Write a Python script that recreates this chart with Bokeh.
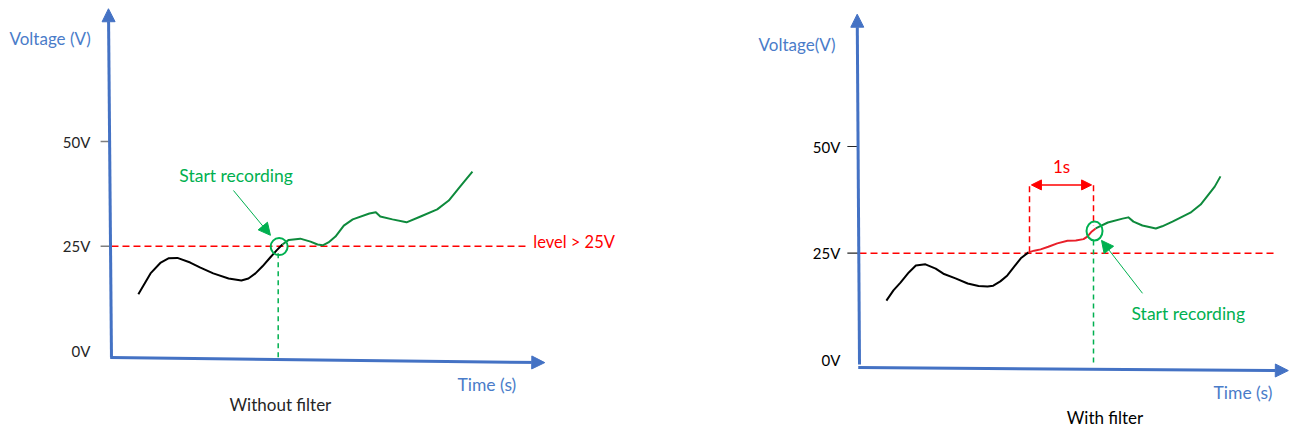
from bokeh.plotting import figure
from bokeh.layouts import row
from bokeh.models import Arrow, NormalHead, Label, Range1d
from bokeh.core.properties import value
from bokeh.embed import file_html
from bokeh.resources import INLINE

# ---------------- data ----------------
tick_values = [50, 25, 0]
tick_labels = ["50V", "25V", "0V"]
threshold_v = 25
delay_s = 1.0

# left panel: without filter
left_black_t = [0.42, 0.61, 0.77, 0.89, 1.03, 1.23, 1.39, 1.59, 1.83, 2.03, 2.14, 2.25, 2.36, 2.48, 2.58, 2.67]
left_black_v = [13.5, 18.5, 21.1, 22.1, 22.2, 21.1, 19.9, 18.5, 17.3, 16.8, 17.3, 18.5, 20.2, 22.3, 24.0, 25.4]
left_green_t = [2.67, 2.77, 2.95, 3.11, 3.22, 3.30, 3.39, 3.50, 3.63, 3.77, 4.03, 4.13, 4.20, 4.39,
                4.61, 4.83, 5.09, 5.27, 5.45, 5.64]
left_green_v = [25.4, 26.5, 26.8, 26.1, 25.4, 25.2, 25.9, 27.3, 29.9, 31.4, 32.8, 33.1, 32.1, 31.4,
                30.7, 32.1, 33.8, 35.9, 39.3, 42.8]
left_trigger_t = 2.62
left_trigger_v = 24.9

# right panel: with filter
right_black_t = [0.42, 0.53, 0.64, 0.77, 0.88, 1.03, 1.19, 1.31, 1.50, 1.69, 1.86, 2.00, 2.09, 2.20,
                 2.31, 2.42, 2.52, 2.64]
right_black_v = [13.9, 16.3, 18.1, 20.5, 22.1, 22.4, 21.4, 20.2, 19.1, 17.9, 17.3, 17.2, 17.4, 18.4,
                 19.8, 21.9, 23.8, 25.2]
right_red_t = [2.64, 2.73, 2.83, 2.95, 3.09, 3.25, 3.38, 3.50, 3.56, 3.63, 3.69]
right_red_v = [25.2, 25.6, 25.9, 26.5, 27.3, 27.9, 28.0, 28.3, 28.9, 30.1, 30.8]
right_green_t = [3.69, 3.88, 4.11, 4.20, 4.28, 4.42, 4.63, 4.73, 4.89, 5.17, 5.33, 5.44, 5.55, 5.64]
right_green_v = [30.8, 32.2, 33.1, 33.4, 32.4, 31.5, 30.8, 31.3, 32.4, 34.5, 36.4, 38.5, 40.6, 43.0]
filter_start_t = 2.656
right_trigger_v = 30.2

# ---------------- styles ----------------
FONT_NAME = "Lato"
FONT = value(FONT_NAME)
BLUE = "#4472C4"
LBLUE = "#4A7CC9"
RED = "#FF0000"
GREEN_TXT = "#00B050"
GREEN_LINE = "#0E8A3C"
DARK = "#262626"
GRAY = "#7F7F7F"
H = 430


def make_panel(width, x0, x1, y0, y1):
    p = figure(width=width, height=H, x_range=Range1d(x0, x1), y_range=Range1d(y0, y1),
               output_backend="svg", toolbar_location=None, min_border=0,
               x_axis_location=None, y_axis_location=None, outline_line_color=None,
               background_fill_color="white", border_fill_color="white")
    p.grid.visible = False
    return p


def head(color, size):
    return NormalHead(size=size, fill_color=color, line_color=color)


def label(p, x, y, text, color, size, align="left"):
    p.add_layout(Label(x=x, y=y, text=text, text_font=FONT_NAME, text_font_size=size,
                       text_color=color, text_align=align, text_baseline="middle"))


# ================= LEFT =================
p1 = make_panel(648, -1.734, 8.391, -19.01, 83.67)

# axes
p1.add_layout(Arrow(x_start=0, y_start=-1.6, x_end=-0.047, y_end=81.7, line_color=BLUE,
                    line_width=3, end=head(BLUE, 13)))
p1.add_layout(Arrow(x_start=-0.02, y_start=-1.6, x_end=6.77, y_end=-2.8, line_color=BLUE,
                    line_width=3, end=head(BLUE, 13)))
p1.segment(x0=[-0.17] * 2, y0=tick_values[:2], x1=[-0.02] * 2, y1=tick_values[:2],
           line_color=GRAY, line_width=1.5)
p1.text(x=[-0.33] * 3, y=tick_values, text=tick_labels, text_font=FONT, text_font_size="15px",
        text_color=DARK, text_align="right", text_baseline="middle")

# threshold
p1.line([0, 6.47], [threshold_v, threshold_v], line_color=RED, line_width=1.5, line_dash="7 4")

# signal
p1.line(left_black_t, left_black_v, line_color="black", line_width=2, line_join="round")
p1.line(left_green_t, left_green_v, line_color=GREEN_LINE, line_width=2, line_join="round")

# trigger
p1.line([left_trigger_t - 0.015] * 2, [23.3, -1.6], line_color=GREEN_TXT, line_width=1.5,
        line_dash="5 4")
p1.scatter([left_trigger_t], [left_trigger_v], marker="circle", size=17, fill_color=None,
           line_color=GREEN_TXT, line_width=2)
p1.add_layout(Arrow(x_start=1.906, y_start=38.3, x_end=2.484, y_end=27.6, line_color=GREEN_TXT,
                    line_width=1, end=head(GREEN_TXT, 12)))

label(p1, 1.06, 41.9, "Start recording", GREEN_TXT, "17.5px")
label(p1, 6.59, 25.9, "level > 25V", RED, "16.5px")
label(p1, -1.594, 74.6, "Voltage (V)", LBLUE, "17px")
label(p1, 5.406, -8.0, "Time (s)", LBLUE, "17.5px")
label(p1, 2.64, -12.9, "Without filter", DARK, "17px", "center")

# ================= RIGHT =================
p2 = make_panel(642, -3.297, 6.734, -16.54, 84.21)

p2.add_layout(Arrow(x_start=0, y_start=-1.1, x_end=-0.036, y_end=81.0, line_color=BLUE,
                    line_width=3, end=head(BLUE, 13)))
p2.add_layout(Arrow(x_start=-0.02, y_start=-1.8, x_end=6.70, y_end=-2.5, line_color=BLUE,
                    line_width=3, end=head(BLUE, 13)))
p2.segment(x0=[-0.19] * 2, y0=tick_values[:2], x1=[-0.02] * 2, y1=tick_values[:2],
           line_color=DARK, line_width=1.2)
p2.text(x=[-0.30] * 3, y=tick_values, text=tick_labels, text_font=FONT, text_font_size="15px",
        text_color="black", text_align="right", text_baseline="middle")

p2.line([0, 6.47], [threshold_v, threshold_v], line_color=RED, line_width=1.5, line_dash="7 4")

record_t = filter_start_t + delay_s
# delay markers
p2.line([filter_start_t] * 2, [25.2, 40.9], line_color=RED, line_width=1.5, line_dash="6 4")
p2.line([record_t] * 2, [40.9, 31.5], line_color=RED, line_width=1.5, line_dash="6 4")
p2.add_layout(Arrow(x_start=filter_start_t + 0.03, y_start=41.0, x_end=record_t - 0.03, y_end=41.0,
                    line_color=RED, line_width=1.5, start=head(RED, 10), end=head(RED, 10)))
label(p2, (filter_start_t + record_t) / 2, 45.3, "1s", RED, "17px", "center")

p2.line(right_black_t, right_black_v, line_color="black", line_width=2, line_join="round")
p2.line(right_red_t, right_red_v, line_color="#E8202A", line_width=2, line_join="round")
p2.line(right_green_t, right_green_v, line_color=GREEN_LINE, line_width=2, line_join="round")

p2.line([record_t] * 2, [28.0, -1.1], line_color=GREEN_TXT, line_width=1.5, line_dash="5 4")
p2.ellipse([record_t + 0.016], [right_trigger_v], width=16, height=19, width_units="screen",
           height_units="screen", fill_color=None, line_color=GREEN_TXT, line_width=2)
p2.add_layout(Arrow(x_start=4.422, y_start=15.6, x_end=3.781, y_end=28.0, line_color=GREEN_TXT,
                    line_width=1, end=head(GREEN_TXT, 12)))

label(p2, 4.25, 10.9, "Start  recording", GREEN_TXT, "17.5px")
label(p2, -1.578, 73.8, "Voltage(V)", LBLUE, "17px")
label(p2, 5.531, -7.6, "Time (s)", LBLUE, "17.5px")
label(p2, 3.836, -13.5, "With filter", "black", "17px", "center")

layout = row(p1, p2)
open("out.html", "w").write(file_html(layout, INLINE))
